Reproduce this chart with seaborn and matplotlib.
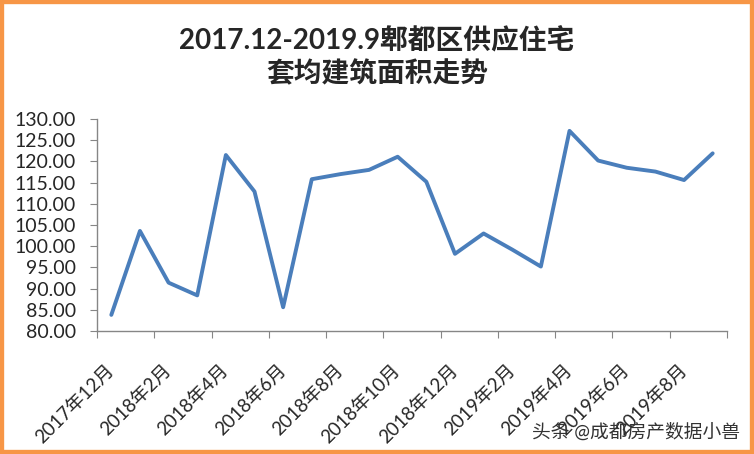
import numpy as np
import pandas as pd
import matplotlib.pyplot as plt
from matplotlib.patches import Rectangle
import seaborn as sns

# data
months = ['2017年12月', '2018年1月', '2018年2月', '2018年3月', '2018年4月', '2018年5月',
          '2018年6月', '2018年7月', '2018年8月', '2018年9月', '2018年10月', '2018年11月',
          '2018年12月', '2019年1月', '2019年2月', '2019年3月', '2019年4月', '2019年5月',
          '2019年6月', '2019年7月', '2019年8月', '2019年9月']
avg_area = [83.8, 103.6, 91.4, 88.4, 121.5, 112.9, 85.6, 115.8, 117.0, 118.0, 121.1,
            115.2, 98.2, 103.0, 99.2, 95.2, 127.2, 120.2, 118.5, 117.6, 115.6, 121.9]
y_ticks = [80, 85, 90, 95, 100, 105, 110, 115, 120, 125, 130]

title_1 = '2017.12-2019.9郫都区供应住宅'
title_2 = '套均建筑面积走势'
watermark = '头条 @成都房产数据小兽'

sns.set_style('white')
plt.rcParams['font.family'] = ['Lato', 'Noto Sans CJK SC', 'DejaVu Sans']

df = pd.DataFrame({'idx': np.arange(len(months)), 'area': avg_area})

fig = plt.figure(figsize=(7.54, 4.54), dpi=100)
ax = fig.add_axes([97 / 754, 1 - 331 / 454, 630 / 754, 212 / 454])

sns.lineplot(data=df, x='idx', y='area', ax=ax, color='#4A7EBB', linewidth=2.8)

ax.set_xlim(-0.5, len(months) - 0.5)
ax.set_ylim(80, 130)
ax.set_yticks(y_ticks)
ax.set_yticklabels(['%.2f' % v for v in y_ticks], fontsize=14)

# boundary ticks every two months, labels at even months
ax.set_xticks(np.arange(-0.5, len(months), 2))
ax.set_xticklabels([])
ax.set_xticks(np.arange(0, len(months), 2), minor=True)
ax.set_xticklabels(months[::2], minor=True, rotation=45, ha='right', va='center',
                   rotation_mode='anchor', fontsize=13.5)
ax.tick_params(axis='x', which='minor', length=0, pad=26)
ax.tick_params(axis='x', which='major', direction='out', length=5, color='#868686', bottom=True)
ax.tick_params(axis='y', direction='out', length=5, color='#868686', left=True, pad=10)

ax.set_xlabel('')
ax.set_ylabel('')
for side in ['top', 'right']:
    ax.spines[side].set_visible(False)
for side in ['left', 'bottom']:
    ax.spines[side].set_color('#868686')
    ax.spines[side].set_linewidth(1)

fig.text(0.5, 1 - 40 / 454, title_1, ha='center', va='center', fontsize=20, fontweight='bold')
fig.text(0.5, 1 - 74 / 454, title_2, ha='center', va='center', fontsize=20, fontweight='bold')
fig.text(740 / 754, 1 - 432 / 454, watermark, ha='right', va='center', fontsize=13.5, color='#333333')

fig.patches.append(Rectangle((0, 0), 1, 1, transform=fig.transFigure, fill=False,
                             edgecolor='#F79646', linewidth=6, zorder=10))

fig.savefig('out.png', dpi=100, facecolor='white')
